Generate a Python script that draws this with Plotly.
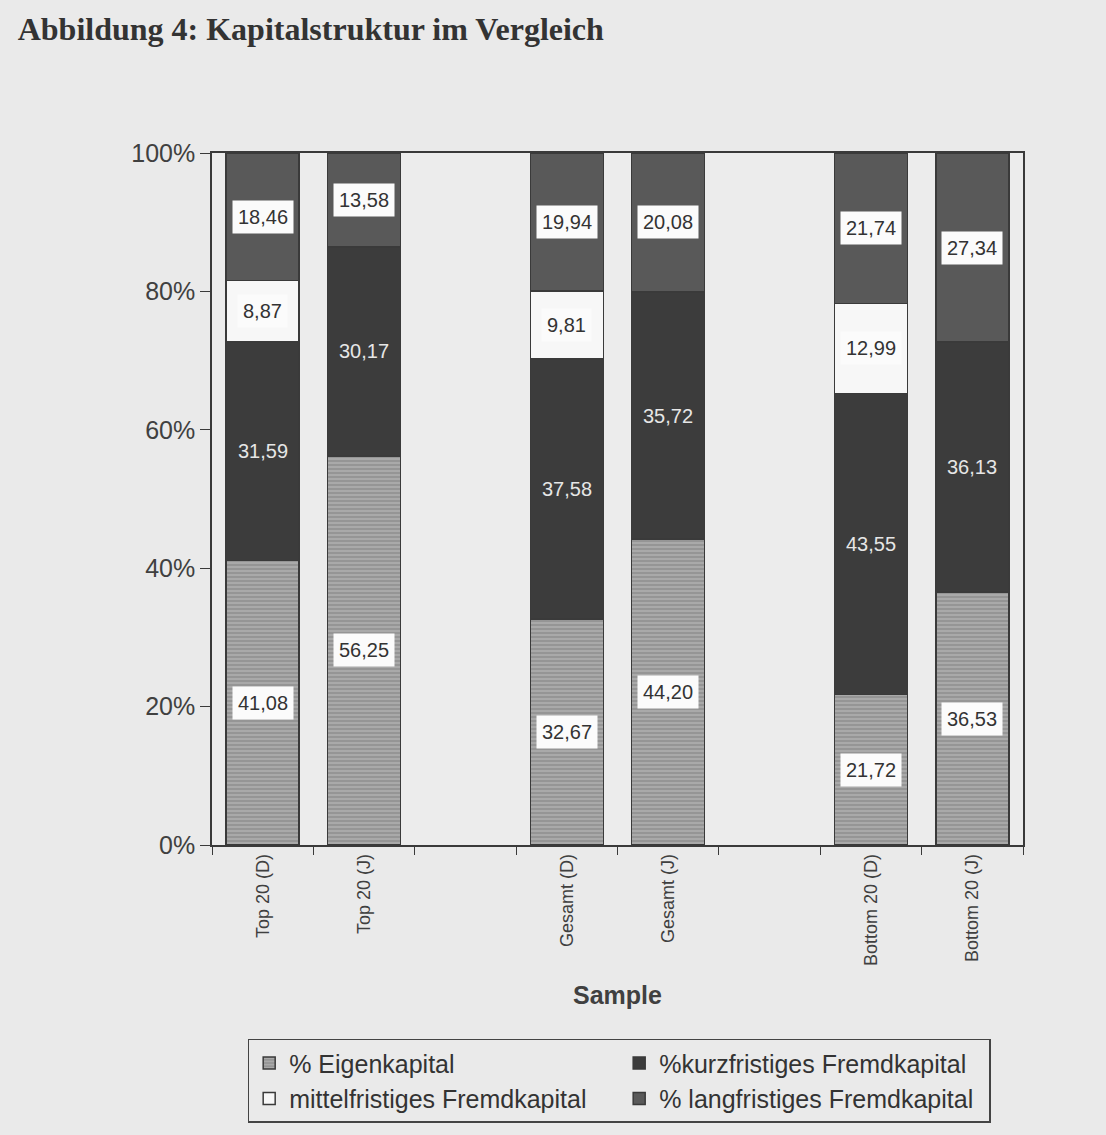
import numpy as np
import plotly.graph_objects as go

# Kapitalstruktur je Sample (Prozent), leere Kategorien als Abstand
samples = ["Top 20 (D)", "Top 20 (J)", " ", "Gesamt (D)", "Gesamt (J)", "  ", "Bottom 20 (D)", "Bottom 20 (J)"]
eigen = [41.08, 56.25, None, 32.67, 44.20, None, 21.72, 36.53]
kurz = [31.59, 30.17, None, 37.58, 35.72, None, 43.55, 36.13]
mittel = [8.87, 0.0, None, 9.81, 0.0, None, 12.99, 0.0]
lang = [18.46, 13.58, None, 19.94, 20.08, None, 21.74, 27.34]

series_names = ["% Eigenkapital", "%kurzfristiges Fremdkapital",
                "mittelfristiges Fremdkapital", "% langfristiges Fremdkapital"]
y_ticks = [0, 20, 40, 60, 80, 100]
y_labels = ["0%", "20%", "40%", "60%", "80%", "100%"]

FONT = "Liberation Sans, Arial, sans-serif"
LINE = "#3a3a3a"
BG = "#eaeaea"

styles = [
    dict(color="#9c9c9c", pattern=dict(shape="-", size=4, solidity=0.35, fgcolor="#cdcdcd", bgcolor="#959595")),
    dict(color="#3c3c3c"),
    dict(color="#f7f7f7"),
    dict(color="#595959"),
]

fig = go.Figure()
for name, vals, st in zip(series_names, [eigen, kurz, mittel, lang], styles):
    fig.add_trace(go.Bar(x=samples, y=vals, name=name,
                         marker=dict(line=dict(color=LINE, width=1.5), **st)))

# Beschriftungen in Segmentmitte
base = np.zeros(len(samples))
for i, vals in enumerate([eigen, kurz, mittel, lang]):
    for j, v in enumerate(vals):
        if v is None:
            continue
        if v > 0:
            txt = f"{v:.2f}".replace(".", ",")
            if i == 1:
                fig.add_annotation(x=samples[j], y=base[j] + v / 2, text=txt, showarrow=False,
                                   font=dict(family=FONT, size=20, color="#e6e6e6"))
            else:
                fig.add_annotation(x=samples[j], y=base[j] + v / 2, text=txt, showarrow=False,
                                   bgcolor="#fbfbfb", borderpad=5,
                                   font=dict(family=FONT, size=20, color="#333333"))
        base[j] += v

fig.update_layout(
    barmode="stack",
    bargap=0.28,
    width=1106, height=1135,
    paper_bgcolor=BG, plot_bgcolor="#ececec",
    margin=dict(l=212, r=83, t=153, b=290),
    font=dict(family=FONT, color="#404040"),
    title=dict(text="<b>Abbildung 4: Kapitalstruktur im Vergleich</b>", x=0.016, xanchor="left",
               y=0.975, yanchor="middle",
               font=dict(family="Liberation Serif, Times New Roman, serif", size=32, color="#333333")),
    legend=dict(orientation="h", x=0.044, y=-0.28, xanchor="left", yanchor="top",
                entrywidth=325, traceorder="normal", itemwidth=30,
                bgcolor="rgba(0,0,0,0)", bordercolor="#444444", borderwidth=1.5,
                font=dict(family=FONT, size=25, color="#333333")),
)
fig.update_xaxes(
    range=[-0.5, 7.5], tickangle=-90, tickfont=dict(size=18, color="#404040"),
    ticks="outside", tickson="boundaries", ticklen=8, tickcolor=LINE,
    showline=True, linecolor=LINE, linewidth=1.5, mirror=True,
    title=dict(text="<b>Sample</b>", font=dict(size=25, color="#404040"), standoff=22),
)
fig.update_yaxes(
    range=[0, 100], tickmode="array", tickvals=y_ticks, ticktext=y_labels,
    tickfont=dict(size=25, color="#404040"),
    ticks="outside", ticklen=10, tickcolor=LINE,
    showgrid=False, zeroline=False,
    showline=True, linecolor=LINE, linewidth=1.5, mirror=True,
)

fig.write_html("out.html", config={"displayModeBar": False},
               post_script=f"document.body.style.margin='0';document.body.style.background='{BG}';")
